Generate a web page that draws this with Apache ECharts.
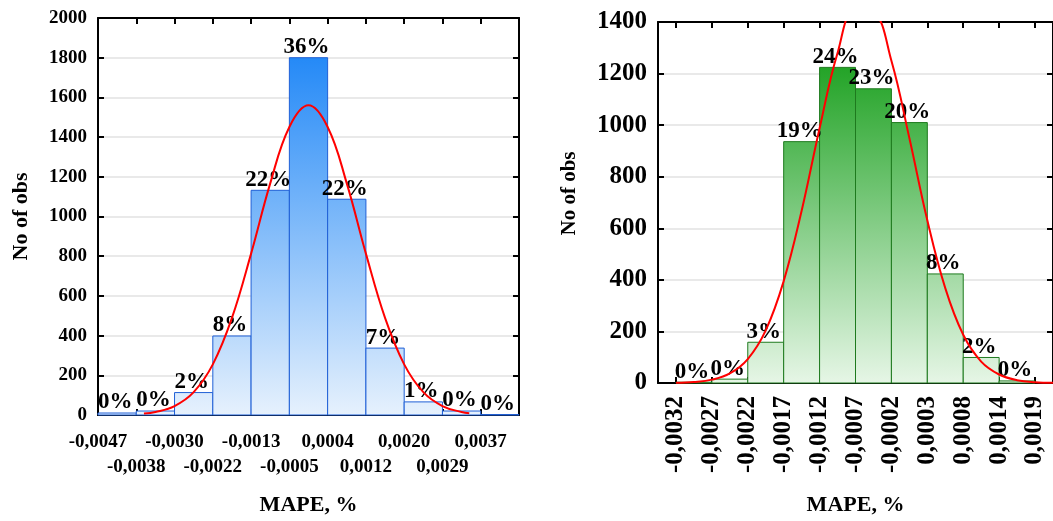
<!DOCTYPE html>
<html><head><meta charset="utf-8">
<script src="https://cdn.jsdelivr.net/npm/echarts@6/dist/echarts.min.js"></script>
<style>html,body{margin:0;padding:0;background:#fff}#c{width:1053px;height:521px}</style>
</head><body><div id="c"></div>
<script>
// ---- Left histogram (blue) ----
const leftEdgeLabels = ['-0,0047','-0,0038','-0,0030','-0,0022','-0,0013','-0,0005','0,0004','0,0012','0,0020','0,0029','0,0037'];
const leftCounts = [10, 20, 113, 398, 1132, 1800, 1087, 337, 66, 20, 2];
const leftPercents = ['0%','0%','2%','8%','22%','36%','22%','7%','1%','0%','0%'];
const leftCurveX = [1.2, 1.5, 2, 2.5, 3, 3.5, 4, 4.5, 5, 5.5, 6, 6.5, 7, 7.5, 8, 8.5, 9, 9.5, 9.7];
const leftCurveY = [7, 15, 45, 115, 255, 489, 813, 1167, 1451, 1560, 1451, 1167, 813, 489, 255, 115, 45, 15, 9];

// ---- Right histogram (green) ----
const rightEdgeLabels = ['-0,0032','-0,0027','-0,0022','-0,0017','-0,0012','-0,0007','-0,0002','0,0003','0,0008','0,0014','0,0019'];
const rightCounts = [3, 15, 158, 936, 1224, 1141, 1010, 423, 99, 8];
const rightPercents = ['0%','0%','3%','19%','24%','23%','20%','8%','2%','0%'];
const rightCurveX = [0, 0.5, 1, 1.5, 2, 2.5, 3, 3.5, 4, 4.5, 5, 5.5, 6, 6.5, 7, 7.5, 8, 8.5, 9, 9.5, 10, 10.5];
const rightCurveY = [1, 4, 13, 37, 93, 204, 395, 668, 988, 1280, 1451, 1440, 1250, 950, 631, 368, 187, 83, 33, 11, 3, 1];

const axisTitle = 'MAPE, %';
const yTitle = 'No of obs';

const FONT = '"Liberation Serif", "Times New Roman", serif';

function histRender(pcts, yMax, stops, border) {
  return function (params, api) {
    const i = params.dataIndex;
    const x0 = api.value(0), x1 = api.value(1), v = api.value(2);
    const pTL = api.coord([x0, v]);
    const pBR = api.coord([x1, 0]);
    const yTop = api.coord([x0, yMax])[1];
    const grad = { type: 'linear', x: 0, y: yTop, x2: 0, y2: pBR[1], global: true, colorStops: stops };
    return {
      type: 'group',
      children: [
        { type: 'rect', shape: { x: pTL[0], y: pTL[1], width: pBR[0] - pTL[0], height: pBR[1] - pTL[1] },
          style: { fill: grad, stroke: border, lineWidth: 1 } },
        { type: 'text', x: (pTL[0] + pBR[0]) / 2 - 2, y: pTL[1] + 1, z2: 10,
          style: { text: pcts[i], fill: '#000', font: 'bold 23px ' + FONT, align: 'center', verticalAlign: 'bottom' } }
      ]
    };
  };
}

function edges(n) { const a = []; for (let i = 0; i < n; i++) a.push(i); return a; }

const blackLine = { show: true, onZero: false, lineStyle: { color: '#000', width: 2 } };
const tickIn = (vals) => ({ show: true, inside: true, length: 6, customValues: vals, lineStyle: { color: '#000', width: 2 } });
const plain = (v) => String(v);

const leftTicks = edges(11);
const leftRow1 = leftTicks.filter((i) => i % 2 === 0);
const leftRow2 = leftTicks.filter((i) => i % 2 === 1);
const rightTicks = edges(11);

const tickLabelStyle = (size) => ({ color: '#000', fontFamily: FONT, fontWeight: 'bold', fontSize: size });

const option = {
  animation: false,
  backgroundColor: '#fff',
  grid: [
    { left: 98, top: 18, width: 421, height: 400.5 },
    { left: 658, top: 22, width: 398, height: 363.5 }
  ],
  xAxis: [
    { gridIndex: 0, type: 'value', min: 0, max: 11, position: 'bottom',
      axisLine: blackLine, axisTick: tickIn(leftTicks), splitLine: { show: false },
      axisLabel: Object.assign({ customValues: leftRow1, showMinLabel: true, showMaxLabel: true, margin: 18,
        formatter: (v) => leftEdgeLabels[Math.round(v)] || '' }, tickLabelStyle(19)),
      name: axisTitle, nameLocation: 'middle', nameGap: 79,
      nameTextStyle: { color: '#000', fontFamily: FONT, fontWeight: 'bold', fontSize: 22 } },
    { gridIndex: 0, type: 'value', min: 0, max: 11, position: 'top',
      axisLine: blackLine, axisTick: tickIn(leftTicks), axisLabel: { show: false }, splitLine: { show: false } },
    { gridIndex: 1, type: 'value', min: -0.5, max: 10.5, position: 'bottom',
      axisLine: blackLine, axisTick: tickIn(rightTicks), splitLine: { show: false },
      axisLabel: Object.assign({ customValues: rightTicks, showMinLabel: true, showMaxLabel: true,
        rotate: 90, margin: 13,
        formatter: (v) => rightEdgeLabels[Math.round(v)] || '' }, tickLabelStyle(25)),
      name: axisTitle, nameLocation: 'middle', nameGap: 111,
      nameTextStyle: { color: '#000', fontFamily: FONT, fontWeight: 'bold', fontSize: 22 } },
    { gridIndex: 1, type: 'value', min: -0.5, max: 10.5, position: 'top',
      axisLine: blackLine, axisTick: tickIn(rightTicks), axisLabel: { show: false }, splitLine: { show: false } },
    // second row of staggered tick labels for the left chart
    { gridIndex: 0, type: 'value', min: 0, max: 11, position: 'bottom',
      axisLine: { show: false }, axisTick: { show: false }, splitLine: { show: false },
      axisLabel: Object.assign({ customValues: leftRow2, showMinLabel: true, showMaxLabel: true, margin: 43,
        formatter: (v) => leftEdgeLabels[Math.round(v)] || '' }, tickLabelStyle(19)) }
  ],
  yAxis: [
    { gridIndex: 0, type: 'value', min: 0, max: 2000, interval: 200, position: 'left',
      axisLine: blackLine, axisTick: { show: true, inside: true, length: 6, lineStyle: { color: '#000', width: 2 } },
      axisLabel: Object.assign({ margin: 11, formatter: plain }, tickLabelStyle(19)),
      splitLine: { show: true, lineStyle: { color: '#e2e2e2', width: 1.5 } },
      name: yTitle, nameLocation: 'middle', nameGap: 66, nameRotate: 90,
      nameTextStyle: { color: '#000', fontFamily: FONT, fontWeight: 'bold', fontSize: 22 } },
    { gridIndex: 0, type: 'value', min: 0, max: 2000, interval: 200, position: 'right',
      axisLine: blackLine, axisTick: { show: true, inside: true, length: 6, lineStyle: { color: '#000', width: 2 } },
      axisLabel: { show: false }, splitLine: { show: false } },
    { gridIndex: 1, type: 'value', min: 0, max: 1400, interval: 200, position: 'left',
      axisLine: blackLine, axisTick: { show: true, inside: true, length: 6, lineStyle: { color: '#000', width: 2 } },
      axisLabel: Object.assign({ margin: 11, formatter: plain }, tickLabelStyle(25)),
      splitLine: { show: true, lineStyle: { color: '#e2e2e2', width: 1.5 } },
      name: yTitle, nameLocation: 'middle', nameGap: 78, nameRotate: 90,
      nameTextStyle: { color: '#000', fontFamily: FONT, fontWeight: 'bold', fontSize: 21, padding: [0, 0, 0, 18] } },
    { gridIndex: 1, type: 'value', min: 0, max: 1400, interval: 200, position: 'right',
      axisLine: blackLine, axisTick: { show: true, inside: true, length: 6, lineStyle: { color: '#000', width: 2 } },
      axisLabel: { show: false }, splitLine: { show: false } }
  ],
  series: [
    { type: 'custom', xAxisIndex: 0, yAxisIndex: 0, z: 3,
      renderItem: histRender(leftPercents, 2000,
        [{ offset: 0, color: '#0f7ef6' }, { offset: 1, color: '#e6f1fd' }], '#1f5fd6'),
      data: leftCounts.map((c, i) => [i, i + 1, c]) },
    { type: 'line', xAxisIndex: 0, yAxisIndex: 0, z: 4, smooth: 0.4, showSymbol: false, symbol: 'none',
      lineStyle: { color: '#ff0000', width: 2 },
      data: leftCurveX.map((x, i) => [x, leftCurveY[i]]) },
    { type: 'custom', xAxisIndex: 2, yAxisIndex: 2, z: 3,
      renderItem: histRender(rightPercents, 1400,
        [{ offset: 0, color: '#129414' }, { offset: 0.12, color: '#22a326' }, { offset: 1, color: '#e6f6e6' }], '#1e7a1e'),
      data: rightCounts.map((c, i) => [i, i + 1, c]) },
    { type: 'line', xAxisIndex: 2, yAxisIndex: 2, z: 4, smooth: 0.4, showSymbol: false, symbol: 'none',
      lineStyle: { color: '#ff0000', width: 2 },
      data: rightCurveX.map((x, i) => [x, rightCurveY[i]]) }
  ]
};

const chart = echarts.init(document.getElementById('c'), null, { renderer: 'canvas' });
chart.setOption(option);
</script>
</body></html>
